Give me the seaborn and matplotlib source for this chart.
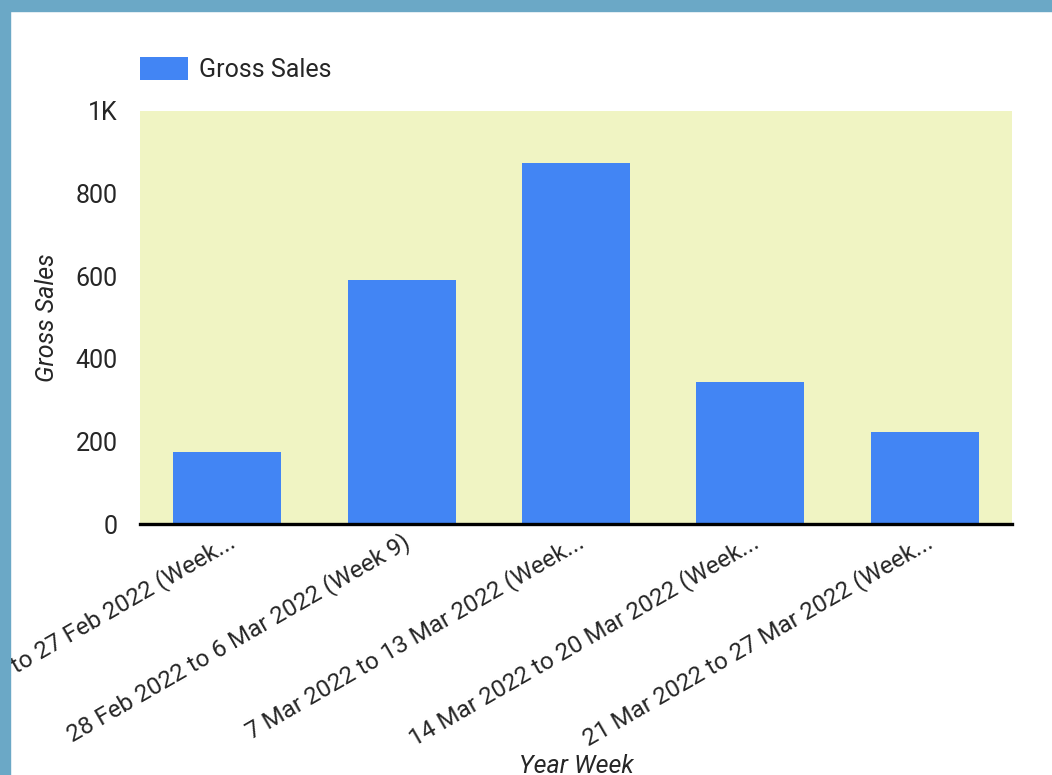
import matplotlib
matplotlib.use('Agg')
import matplotlib.pyplot as plt
from matplotlib.patches import Rectangle
import seaborn as sns
import pandas as pd

weeks = ['21 Feb 2022 to 27 Feb 2022 (Week...',
         '28 Feb 2022 to 6 Mar 2022 (Week 9)',
         '7 Mar 2022 to 13 Mar 2022 (Week...',
         '14 Mar 2022 to 20 Mar 2022 (Week...',
         '21 Mar 2022 to 27 Mar 2022 (Week...']
gross_sales = [175, 592, 874, 345, 223]
y_ticks = [0, 200, 400, 600, 800, 1000]
y_tick_labels = ['0', '200', '400', '600', '800', '1K']

df = pd.DataFrame({'Year Week': weeks, 'Gross Sales': gross_sales})

sns.set_style("white")
plt.rcParams['font.family'] = ['Roboto', 'DejaVu Sans']

fig = plt.figure(figsize=(10.52, 7.75), dpi=100)
ax = fig.add_axes([140/1052, 1-524/775, 872/1052, 413/775])

sns.barplot(data=df, x='Year Week', y='Gross Sales', color='#4285F4',
            saturation=1, width=0.62, linewidth=0, label='Gross Sales',
            ax=ax, zorder=2)

ax.set_facecolor('#F0F4C3')
ax.set_xlim(-0.5, 4.5)
ax.set_ylim(0, 1000)
ax.set_yticks(y_ticks)
ax.set_yticklabels(y_tick_labels)
ax.tick_params(axis='y', length=0, pad=16, labelsize=18)
ax.tick_params(axis='x', length=0, pad=4, labelsize=17.5)
for lbl in ax.get_xticklabels():
    lbl.set_rotation(30)
    lbl.set_ha('right')
    lbl.set_va('top')
    lbl.set_rotation_mode('anchor')

for s in ['top', 'right', 'left']:
    ax.spines[s].set_visible(False)
ax.spines['bottom'].set_color('black')
ax.spines['bottom'].set_linewidth(2.4)
ax.spines['bottom'].set_zorder(3)

ax.set_ylabel('Gross Sales', fontsize=18, style='italic', labelpad=12)
ax.set_xlabel('Year Week', fontsize=18, style='italic')
ax.xaxis.set_label_coords(0.5, -0.585)
ax.xaxis.label.set_va('center')

ax.legend(loc='lower left', bbox_to_anchor=(0, 1.07), frameon=False,
          fontsize=18, handlelength=1.92, handleheight=1.0,
          handletextpad=0.44, borderpad=0, borderaxespad=0)

# dashboard frame around the card
border = '#6BA8C6'
fig.add_artist(Rectangle((0, 0), 10/1052, 1, transform=fig.transFigure,
                         color=border, zorder=10))
fig.add_artist(Rectangle((0, 1-11/775), 1, 11/775, transform=fig.transFigure,
                         color=border, zorder=10))

plt.savefig('out.png', dpi=100)
